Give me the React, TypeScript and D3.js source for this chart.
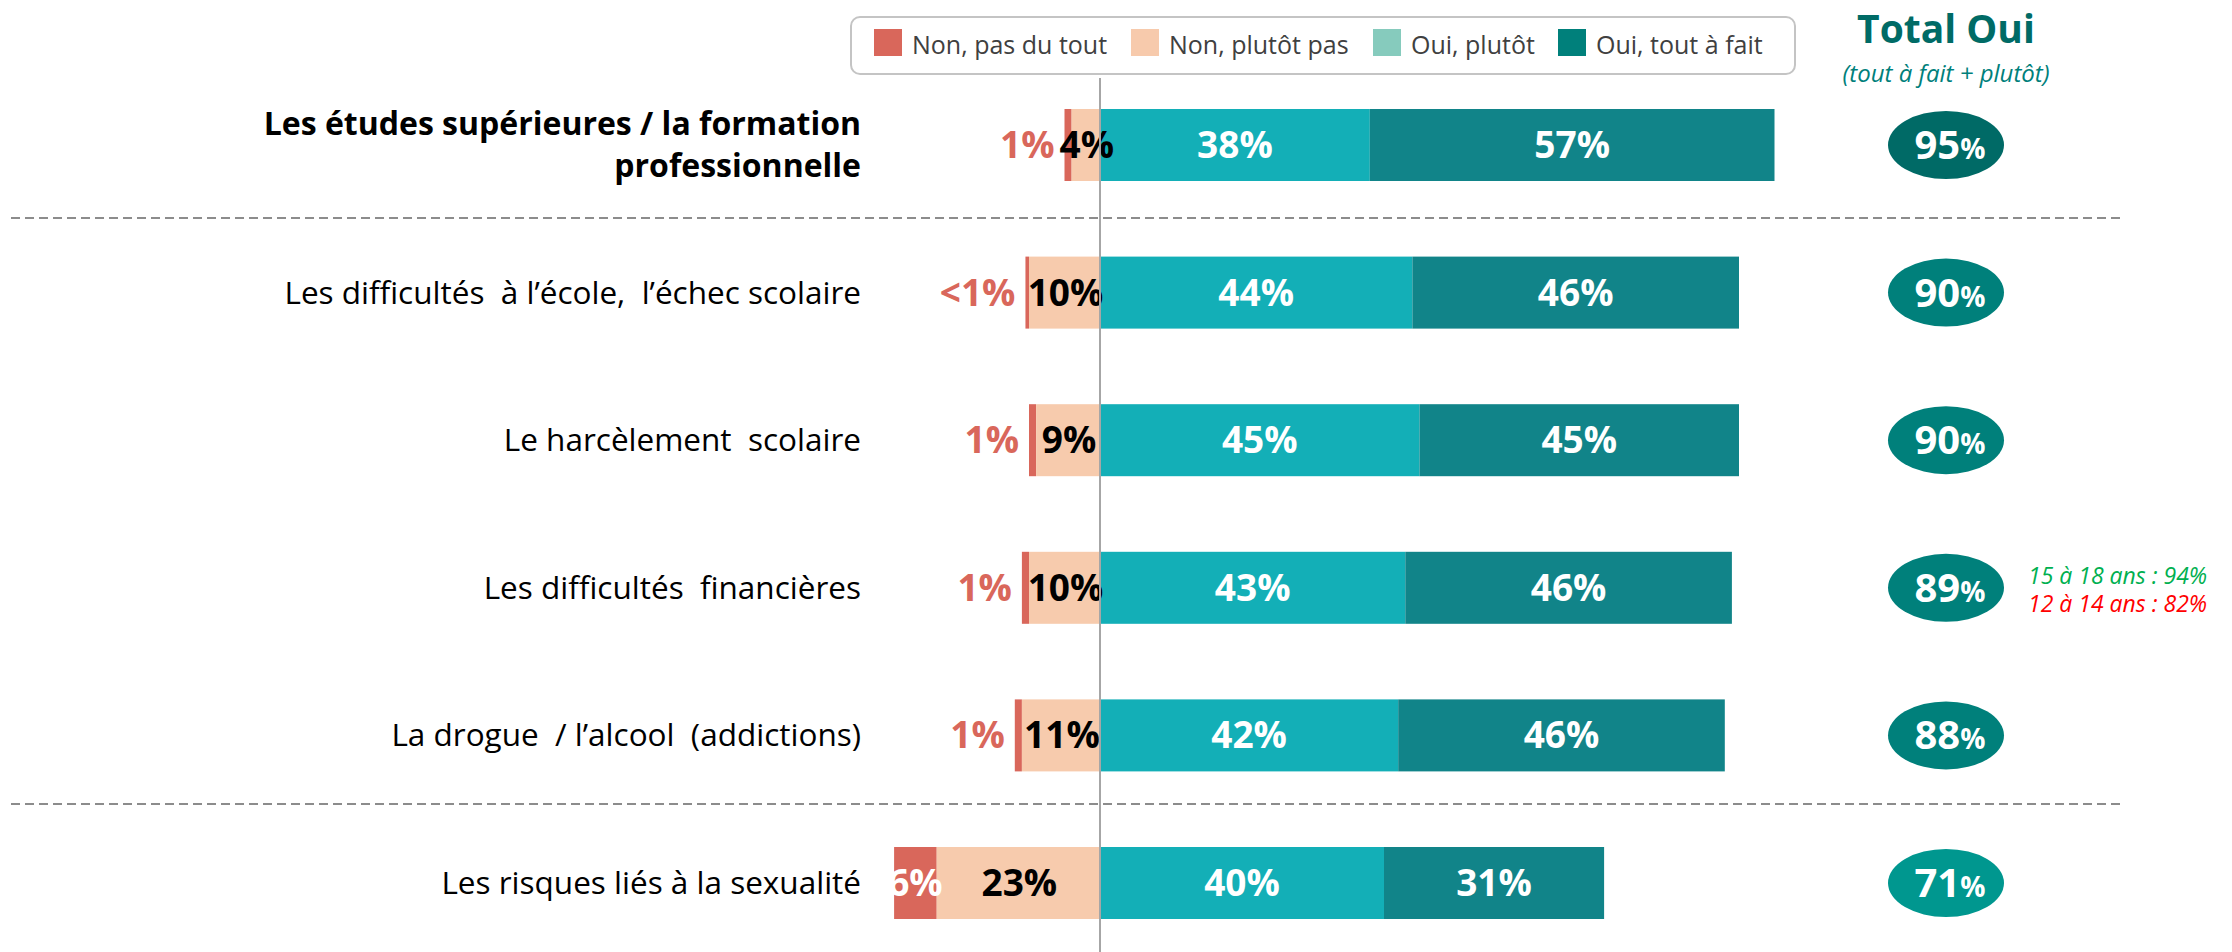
import React from "react";
import * as d3 from "d3";

const categories = [
  "Les études supérieures / la formation professionnelle",
  "Les difficultés  à l’école,  l’échec scolaire",
  "Le harcèlement  scolaire",
  "Les difficultés  financières",
  "La drogue  / l’alcool  (addictions)",
  "Les risques liés à la sexualité",
];
const categoryLines = [
  ["Les études supérieures / la formation", "professionnelle"],
  ["Les difficultés  à l’école,  l’échec scolaire"],
  ["Le harcèlement  scolaire"],
  ["Les difficultés  financières"],
  ["La drogue  / l’alcool  (addictions)"],
  ["Les risques liés à la sexualité"],
];
const nonPasDuTout = [1, 0.5, 1, 1, 1, 6];
const nonPasDuToutLabels = ["1%", "<1%", "1%", "1%", "1%", "6%"];
const nonPlutotPas = [4, 10, 9, 10, 11, 23];
const ouiPlutot = [38, 44, 45, 43, 42, 40];
const ouiToutAFait = [57, 46, 45, 46, 46, 31];
const totalOui = [95, 90, 90, 89, 88, 71];
const legendLabels = ["Non, pas du tout", "Non, plutôt pas", "Oui, plutôt", "Oui, tout à fait"];
const annotationLines = ["15 à 18 ans : 94%", "12 à 14 ans : 82%"];

const FONT = "'Open Sans', 'Noto Sans', sans-serif";
const C_NPDT = "#d9675b";
const C_NPP = "#f7cbad";
const C_OP = "#13afb7";
const C_OTF = "#118489";
const legendColors = ["#d9675b", "#f7caac", "#86cbbd", "#00807b"];

const ellipseColor = (v: number) => (v >= 95 ? "#006a66" : v <= 75 ? "#00978f" : "#00807b");

export default function App() {
  const W = 2232;
  const H = 952;
  const x = d3.scaleLinear().domain([0, 100]).range([0, 710]);
  const x0 = 1100;
  const y = d3.scalePoint<number>().domain(categories.map((_, i) => i)).range([145, 883]);
  const barH = 72;
  const labelRight = 861;
  const totalX = 1946;

  const legendX = [874, 1131, 1373, 1558];

  return (
    <svg
      width={W}
      height={H}
      style={{ position: "absolute", left: 0, top: 0, background: "#fff" }}
      fontFamily={FONT}
    >
      <rect x={0} y={0} width={W} height={H} fill="#fff" />
      {/* legend */}
      <rect x={851} y={17} width={944} height={57} rx={9} fill="#fff" stroke="#c4c4c4" strokeWidth={2} />
      {legendLabels.map((l, i) => (
        <g key={l}>
          <rect x={legendX[i]} y={29} width={28} height={27} fill={legendColors[i]} />
          <text x={legendX[i] + 38} y={54} fontSize={25} fill="#404040">
            {l}
          </text>
        </g>
      ))}

      {/* header */}
      <text x={totalX} y={43} textAnchor="middle" fontSize={39} fontWeight={700} fill="#006b66">
        Total Oui
      </text>
      <text x={totalX} y={82} textAnchor="middle" fontSize={24} fontStyle="italic" fill="#00807b">
        (tout à fait + plutôt)
      </text>

      {/* separators */}
      {[218, 804].map((yy) => (
        <line key={yy} x1={11} x2={2120} y1={yy} y2={yy} stroke="#8c8c8c" strokeWidth={2} strokeDasharray="9 5" />
      ))}

      {categories.map((c, i) => {
        const cy = y(i) as number;
        const top = cy - barH / 2;
        const npp = x(nonPlutotPas[i]);
        const npdt = x(nonPasDuTout[i]);
        const op = x(ouiPlutot[i]);
        const otf = x(ouiToutAFait[i]);
        const redInside = nonPasDuTout[i] >= 3;
        const lines = categoryLines[i];
        return (
          <g key={c}>
            {lines.map((ln, k) => (
              <text
                key={k}
                x={labelRight}
                y={cy + 11 + (k - (lines.length - 1) / 2) * 42}
                textAnchor="end"
                fontSize={i === 0 ? 32 : 31.5}
                fontWeight={i === 0 ? 700 : 400}
                fill="#000"
                style={{ whiteSpace: "pre" }}
              >
                {ln}
              </text>
            ))}
            <rect x={x0 - npp - npdt} y={top} width={npdt} height={barH} fill={C_NPDT} />
            <rect x={x0 - npp} y={top} width={npp} height={barH} fill={C_NPP} />
            <rect x={x0} y={top} width={op} height={barH} fill={C_OP} />
            <rect x={x0 + op} y={top} width={otf} height={barH} fill={C_OTF} />
            <text
              x={redInside ? x0 - npp - npdt / 2 : x0 - npp - npdt - 10}
              y={cy + 13}
              textAnchor={redInside ? "middle" : "end"}
              fontSize={37}
              fontWeight={700}
              fill={redInside ? "#fff" : C_NPDT}
            >
              {nonPasDuToutLabels[i]}
            </text>
            <text x={x0 - npp / 2 + 1} y={cy + 13} textAnchor="middle" fontSize={37} fontWeight={700} fill="#000">
              {nonPlutotPas[i]}%
            </text>
            <text x={x0 + op / 2} y={cy + 13} textAnchor="middle" fontSize={37} fontWeight={700} fill="#fff">
              {ouiPlutot[i]}%
            </text>
            <text x={x0 + op + otf / 2} y={cy + 13} textAnchor="middle" fontSize={37} fontWeight={700} fill="#fff">
              {ouiToutAFait[i]}%
            </text>
            <ellipse cx={totalX} cy={cy} rx={58} ry={34} fill={ellipseColor(totalOui[i])} />
            <text x={totalX + 4} y={cy + 14} textAnchor="middle" fill="#fff" fontWeight={700}>
              <tspan fontSize={40}>{totalOui[i]}</tspan>
              <tspan fontSize={28}>%</tspan>
            </text>
          </g>
        );
      })}

      {/* annotation */}
      <text x={2028} y={584} fontSize={23} fontStyle="italic" fill="#00b050" style={{ whiteSpace: "pre" }}>
        {annotationLines[0]}
      </text>
      <text x={2028} y={612} fontSize={23} fontStyle="italic" fill="#ff0000" style={{ whiteSpace: "pre" }}>
        {annotationLines[1]}
      </text>

      {/* zero line */}
      <line x1={x0} x2={x0} y1={78} y2={H} stroke="#a6a6a6" strokeWidth={2} />
    </svg>
  );
}
